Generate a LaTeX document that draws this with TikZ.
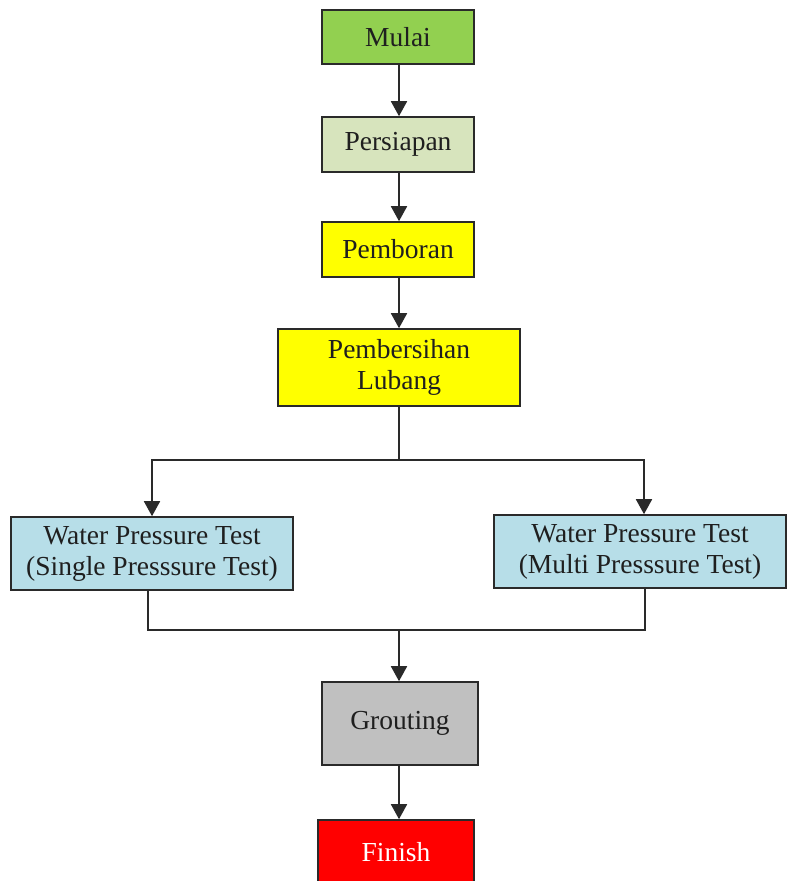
\documentclass[tikz,border=0pt]{standalone}
\usepackage{fontspec}
\setmainfont{LiberationSerif}[Extension=.ttf,UprightFont=*-Regular,BoldFont=*-Bold]
\usetikzlibrary{arrows.meta,positioning}
\definecolor{cgreen}{HTML}{92D050}
\definecolor{cpale}{HTML}{D7E4BD}
\definecolor{cyel}{HTML}{FFFF00}
\definecolor{cblue}{HTML}{B7DEE8}
\definecolor{cgray}{HTML}{C0C0C0}
\definecolor{cred}{HTML}{FF0000}
\definecolor{cline}{HTML}{2A2A2A}
\begin{document}
\begin{tikzpicture}[x=1pt,y=-1pt,
  box/.style={draw=cline,line width=1.6pt,rectangle,align=center,inner sep=0pt,
    font=\fontsize{27.5}{31}\selectfont,text=black!88},
  conn/.style={draw=cline,line width=1.8pt},
  arr/.style={conn,-{Triangle[width=16pt,length=15pt]}}]
\useasboundingbox (0,0) rectangle (787,881);
\node[box,fill=cgreen,minimum width=152pt,minimum height=54pt] (mulai) at (398,37) {Mulai};
\node[box,fill=cpale,minimum width=152pt,minimum height=55pt] (persiapan) at (398,144.5) {Persiapan};
\node[box,fill=cyel,minimum width=152pt,minimum height=55pt] (pemboran) at (398,249.5) {Pemboran};
\node[box,fill=cyel,minimum width=242pt,minimum height=77pt] (pembersihan) at (399,367.5) {Pembersihan\\Lubang};
\node[box,fill=cblue,minimum width=282pt,minimum height=73pt] (left) at (152,553.5) {Water Pressure Test\\(Single Presssure Test)};
\node[box,fill=cblue,minimum width=292pt,minimum height=73pt] (right) at (640,551.5) {Water Pressure Test\\(Multi Presssure Test)};
\node[box,fill=cgray,minimum width=156pt,minimum height=83pt] (grout) at (400,723.5) {Grouting};
\node[box,fill=cred,text=white,minimum width=156pt,minimum height=64pt] (finish) at (396,852) {Finish};
\coordinate (split) at (399,460);
\coordinate (merge) at (399,630);
\draw[arr] (mulai.south -| split) -- (persiapan.north -| split);
\draw[arr] (persiapan.south -| split) -- (pemboran.north -| split);
\draw[arr] (pemboran.south -| split) -- (pembersihan.north -| split);
\draw[conn] (pembersihan.south -| split) -- (split);
\draw[arr] (split) -| (left.north);
\draw[arr] (split) -| ([xshift=4pt]right.north);
\draw[conn] ([xshift=-4pt]left.south) |- (merge);
\draw[conn] ([xshift=5pt]right.south) |- (merge);
\draw[arr] (merge) -- (grout.north -| split);
\draw[arr] (grout.south -| split) -- (finish.north -| split);
\end{tikzpicture}
\end{document}
